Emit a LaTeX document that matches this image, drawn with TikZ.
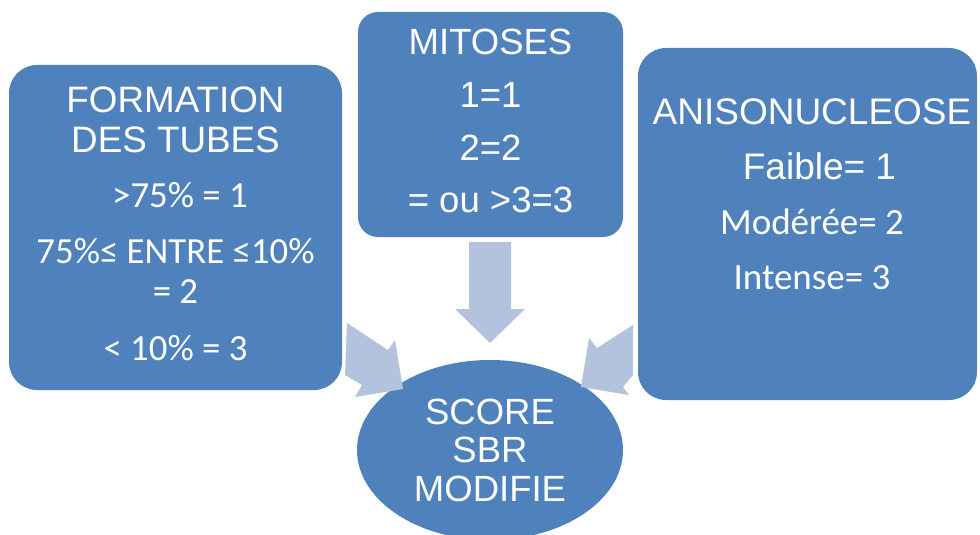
\documentclass[tikz,border=0pt]{standalone}
\usepackage{fontspec}
\setmainfont{Liberation Sans}
\newfontfamily\calibri{Carlito}
\usetikzlibrary{shapes.geometric,positioning}

\definecolor{boxblue}{HTML}{4F81BD}
\definecolor{arrowblue}{HTML}{B3C3DE}

\tikzset{
  critbox/.style={fill=boxblue, text=white, rounded corners=28pt, inner sep=0pt, align=center},
  scorebox/.style={ellipse, fill=boxblue, text=white, inner sep=0pt, align=center},
  blockarrow/.style={fill=arrowblue},
}

\begin{document}
\begin{tikzpicture}[x=1pt,y=-1pt]
    \useasboundingbox (0,0) rectangle (980,535);

    % Criteria boxes
    \node[critbox, minimum width=333pt, minimum height=325pt, font=\fontsize{36.8}{40}\selectfont] (tubes) at (175.5,227.5)
        {FORMATION\\DES TUBES\\[15pt]
         \calibri\hspace*{9pt}>75\% = 1\\[16pt]
         \calibri 75\%≤ ENTRE ≤10\%\\
         \calibri = 2\\[17pt]
         \calibri < 10\% = 3\rule[-8pt]{0pt}{0pt}};
    \node[critbox, rounded corners=20pt, minimum width=265pt, minimum height=225pt, font=\fontsize{36.5}{52.7}\selectfont] (mitoses) at (490.5,124.5)
        {MITOSES\\1=1\\2=2\\= ou >3=3\rule[-7pt]{0pt}{0pt}};
    \node[critbox, minimum width=339pt, minimum height=352pt, font=\fontsize{37}{55}\selectfont] (aniso) at (807.5,224)
        {\hspace*{9pt}ANISONUCLEOSE\\\hspace*{24pt}Faible= 1\\
         \calibri\hspace*{9pt}Modérée= 2\\
         \calibri\hspace*{9pt}Intense= 3\rule[-59pt]{0pt}{0pt}};

    % Score
    \node[scorebox, minimum width=266pt, minimum height=180pt, font=\fontsize{36.5}{38.5}\selectfont] (score) at (490,450)
        {SCORE\\SBR\\MODIFIE};

    % Block arrows
    \fill[blockarrow] (469,242) -- (511,242) -- (511,309) -- (525,309) -- (490,343) -- (455,309) -- (469,309) -- cycle;
    \fill[blockarrow] (347,323) -- (388,350) -- (395,340) -- (403,389) -- (355,397) -- (362,385) -- (345,375) -- cycle;
    \fill[blockarrow] (633,325) -- (597,348) -- (589,338) -- (581,387) -- (629,395) -- (623,387) -- (633,375) -- cycle;
\end{tikzpicture}
\end{document}
